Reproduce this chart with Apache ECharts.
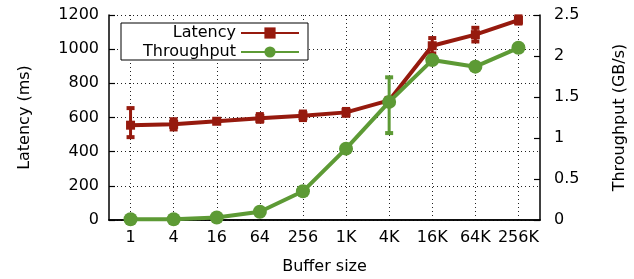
<!DOCTYPE html>
<html>
<head>
<meta charset="utf-8">
<script src="https://cdn.jsdelivr.net/npm/echarts@6/dist/echarts.min.js"></script>
<style>
  html, body { margin: 0; padding: 0; background: #fff; }
  #main { width: 634px; height: 279px; }
</style>
</head>
<body>
<div id="main"></div>
<script>
// buffer sizes on the x axis
var bufferSizes = ['1', '4', '16', '64', '256', '1K', '4K', '16K', '64K', '256K'];

// latency (ms), with error bar ends
var latency     = [555, 560, 578, 595, 610, 630, 700, 1020, 1085, 1170];
var latencyLow  = [485, 530, 568, 575, 585, 610, 690, 975, 1045, 1150];
var latencyHigh = [655, 590, 588, 620, 635, 650, 710, 1065, 1125, 1192];

// throughput (GB/s), with error bar ends
var throughput     = [0.01, 0.01, 0.03, 0.10, 0.35, 0.87, 1.44, 1.95, 1.87, 2.10];
var throughputLow  = [0.01, 0.01, 0.03, 0.10, 0.35, 0.87, 1.06, 1.92, 1.85, 2.08];
var throughputHigh = [0.01, 0.01, 0.03, 0.10, 0.35, 0.87, 1.74, 1.98, 1.89, 2.12];

var RED = '#961a0e';
var GREEN = '#5d9a35';
var FONT = 'DejaVu Sans';

function errorData(low, high) {
    return low.map(function (v, i) { return [i, v, high[i]]; });
}

function errorBars(color) {
    return function (params, api) {
        var top = api.coord([api.value(0), api.value(2)]);
        var bot = api.coord([api.value(0), api.value(1)]);
        var w = 4;
        return {
            type: 'group',
            children: [
                { type: 'line', shape: { x1: top[0], y1: top[1], x2: bot[0], y2: bot[1] }, style: { stroke: color, lineWidth: 3 } },
                { type: 'line', shape: { x1: top[0] - w, y1: top[1], x2: top[0] + w, y2: top[1] }, style: { stroke: color, lineWidth: 4 } },
                { type: 'line', shape: { x1: bot[0] - w, y1: bot[1], x2: bot[0] + w, y2: bot[1] }, style: { stroke: color, lineWidth: 4 } }
            ]
        };
    };
}

var chart = echarts.init(document.getElementById('main'), null, { renderer: 'canvas' });

var dotted = { color: '#222', width: 1, type: [1, 3] };
var labelStyle = { fontFamily: FONT, fontSize: 16, color: '#000' };
var frameLine = { color: '#000', width: 1.5 };
var tickStyle = { color: '#000', width: 1.2 };

var option = {
    animation: false,
    backgroundColor: '#fff',
    textStyle: { fontFamily: FONT },
    grid: { left: 109, right: 94, top: 15, bottom: 59, outerBoundsMode: 'none' },
    graphic: [{
        type: 'rect',
        z: 3,
        shape: { x: 121, y: 23, width: 187, height: 37 },
        style: { fill: '#fff', stroke: '#000', lineWidth: 1 }
    }],
    legend: [{
        data: ['Latency'],
        orient: 'vertical',
        align: 'right',
        right: 334,
        top: 25,
        padding: 0,
        itemWidth: 58,
        itemHeight: 14,
        textStyle: labelStyle,
        z: 5
    }, {
        data: ['Throughput'],
        orient: 'vertical',
        align: 'right',
        right: 334,
        top: 44,
        padding: 0,
        itemWidth: 58,
        itemHeight: 14,
        textStyle: labelStyle,
        z: 5
    }],
    xAxis: [{
        type: 'category',
        data: bufferSizes,
        position: 'bottom',
        name: 'Buffer size',
        nameLocation: 'middle',
        nameGap: 39,
        nameTextStyle: labelStyle,
        axisLine: { lineStyle: frameLine },
        axisTick: { inside: true, alignWithLabel: true, interval: 0, length: 6, lineStyle: tickStyle },
        axisLabel: Object.assign({ margin: 10, interval: 0, hideOverlap: false }, labelStyle),
        splitLine: { show: true, alignWithLabel: true, interval: 0, lineStyle: dotted }
    }, {
        type: 'category',
        data: bufferSizes,
        position: 'top',
        axisLine: { lineStyle: frameLine },
        axisTick: { inside: true, alignWithLabel: true, interval: 0, length: 6, lineStyle: tickStyle },
        axisLabel: { show: false },
        splitLine: { show: false }
    }],
    yAxis: [{
        type: 'value',
        min: 0,
        max: 1200,
        interval: 200,
        name: 'Latency (ms)',
        nameLocation: 'middle',
        nameRotate: 90,
        nameGap: 76,
        nameTextStyle: labelStyle,
        axisLine: { show: true, lineStyle: frameLine },
        axisTick: { show: true, inside: true, length: 6, lineStyle: tickStyle },
        axisLabel: Object.assign({ margin: 10, formatter: function (v) { return String(v); } }, labelStyle),
        splitLine: { show: true, lineStyle: dotted }
    }, {
        type: 'value',
        min: 0,
        max: 2.5,
        interval: 0.5,
        position: 'right',
        name: 'Throughput (GB/s)',
        nameLocation: 'middle',
        nameRotate: 90,
        nameGap: 72,
        nameTextStyle: labelStyle,
        axisLine: { show: true, lineStyle: frameLine },
        axisTick: { show: true, inside: true, length: 6, lineStyle: tickStyle },
        axisLabel: Object.assign({ margin: 14, formatter: function (v) { return String(v); } }, labelStyle),
        splitLine: { show: false }
    }],
    series: [{
        name: 'Latency',
        type: 'line',
        yAxisIndex: 0,
        data: latency,
        symbol: 'rect',
        symbolSize: 9,
        lineStyle: { color: RED, width: 4 },
        itemStyle: { color: RED },
        z: 3
    }, {
        type: 'custom',
        yAxisIndex: 0,
        data: errorData(latencyLow, latencyHigh),
        renderItem: errorBars(RED),
        z: 3
    }, {
        name: 'Throughput',
        type: 'line',
        yAxisIndex: 1,
        data: throughput,
        symbol: 'circle',
        symbolSize: 14,
        lineStyle: { color: GREEN, width: 4 },
        itemStyle: { color: GREEN },
        z: 4
    }, {
        type: 'custom',
        yAxisIndex: 1,
        data: errorData(throughputLow, throughputHigh),
        renderItem: errorBars(GREEN),
        z: 4
    }]
};

chart.setOption(option);
</script>
</body>
</html>
